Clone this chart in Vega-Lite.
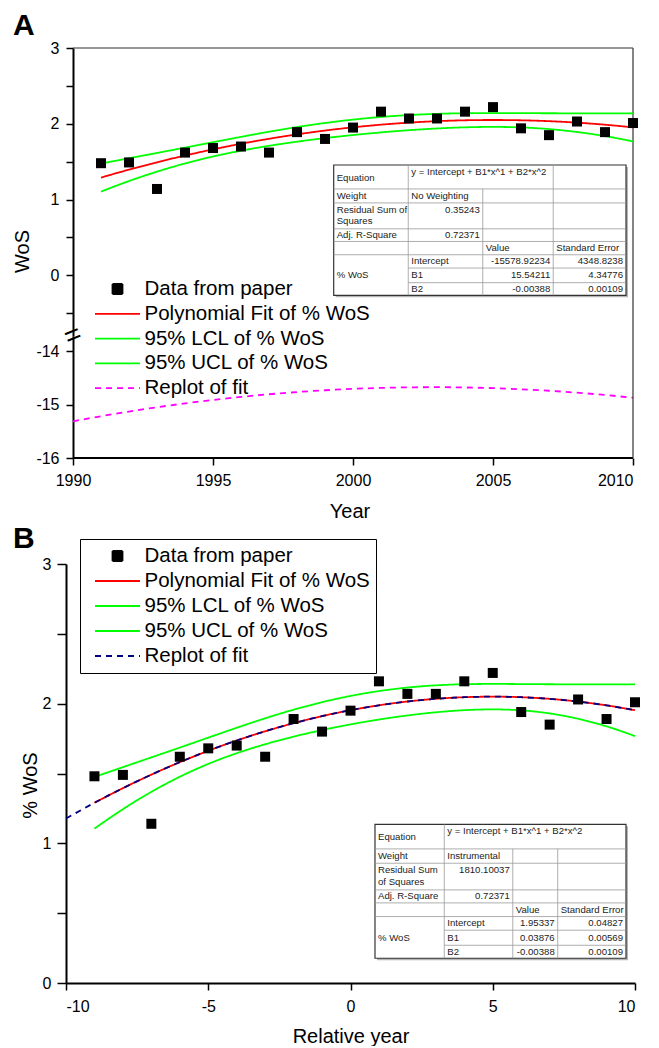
{
 "$schema": "https://vega.github.io/schema/vega-lite/v6.json",
 "background": "white",
 "padding": {"left": 12, "top": 11, "right": 0, "bottom": 0},
 "config": {
  "view": {"stroke": null},
  "font": "Liberation Sans",
  "axis": {"domainColor": "#000", "domainWidth": 2, "tickColor": "#000", "tickWidth": 1.5, "tickSize": 7, "labelFont": "Liberation Sans", "labelFontSize": 16, "labelColor": "#000", "titleFont": "Liberation Sans", "titleFontSize": 20, "titleFontWeight": "normal", "titleColor": "#000", "grid": false},
  "legend": {"labelFont": "Liberation Sans", "labelFontSize": 20.5, "labelColor": "#000", "symbolSize": 400, "symbolStrokeWidth": 2, "symbolOffset": 20.5, "labelOffset": 16, "padding": 6, "labelLimit": 400},
  "title": {"font": "Liberation Sans", "fontSize": 30, "fontWeight": "bold", "color": "#000", "anchor": "start", "frame": "group"},
  "line": {"strokeWidth": 1.8, "interpolate": "monotone"}
 },
 "datasets": {
  "obs": [
   {"year": 1991, "rel": -9, "wos": 1.48}, {"year": 1992, "rel": -8, "wos": 1.49}, {"year": 1993, "rel": -7, "wos": 1.14},
   {"year": 1994, "rel": -6, "wos": 1.62}, {"year": 1995, "rel": -5, "wos": 1.68}, {"year": 1996, "rel": -4, "wos": 1.70},
   {"year": 1997, "rel": -3, "wos": 1.62}, {"year": 1998, "rel": -2, "wos": 1.89}, {"year": 1999, "rel": -1, "wos": 1.80},
   {"year": 2000, "rel": 0, "wos": 1.95}, {"year": 2001, "rel": 1, "wos": 2.16}, {"year": 2002, "rel": 2, "wos": 2.07},
   {"year": 2003, "rel": 3, "wos": 2.07}, {"year": 2004, "rel": 4, "wos": 2.16}, {"year": 2005, "rel": 5, "wos": 2.22},
   {"year": 2006, "rel": 6, "wos": 1.94}, {"year": 2007, "rel": 7, "wos": 1.85}, {"year": 2008, "rel": 8, "wos": 2.03},
   {"year": 2009, "rel": 9, "wos": 1.89}, {"year": 2010, "rel": 10, "wos": 2.01}
  ],
  "fit": [
   {"year": 1991, "rel": -9, "fit": 1.2903, "lcl": 1.1053, "ucl": 1.4752},
   {"year": 1992, "rel": -8, "fit": 1.3950, "lcl": 1.2445, "ucl": 1.5454},
   {"year": 1993, "rel": -7, "fit": 1.4919, "lcl": 1.3686, "ucl": 1.6152},
   {"year": 1994, "rel": -6, "fit": 1.5811, "lcl": 1.4767, "ucl": 1.6856},
   {"year": 1995, "rel": -5, "fit": 1.6626, "lcl": 1.5685, "ucl": 1.7567},
   {"year": 1996, "rel": -4, "fit": 1.7363, "lcl": 1.6451, "ucl": 1.8274},
   {"year": 1997, "rel": -3, "fit": 1.8022, "lcl": 1.7093, "ucl": 1.8951},
   {"year": 1998, "rel": -2, "fit": 1.8603, "lcl": 1.7638, "ucl": 1.9568},
   {"year": 1999, "rel": -1, "fit": 1.9107, "lcl": 1.8108, "ucl": 2.0106},
   {"year": 2000, "rel": 0, "fit": 1.9534, "lcl": 1.8515, "ucl": 2.0552},
   {"year": 2001, "rel": 1, "fit": 1.9883, "lcl": 1.8864, "ucl": 2.0901},
   {"year": 2002, "rel": 2, "fit": 2.0154, "lcl": 1.9155, "ucl": 2.1153},
   {"year": 2003, "rel": 3, "fit": 2.0347, "lcl": 1.9382, "ucl": 2.1312},
   {"year": 2004, "rel": 4, "fit": 2.0463, "lcl": 1.9534, "ucl": 2.1392},
   {"year": 2005, "rel": 5, "fit": 2.0502, "lcl": 1.9590, "ucl": 2.1413},
   {"year": 2006, "rel": 6, "fit": 2.0463, "lcl": 1.9521, "ucl": 2.1404},
   {"year": 2007, "rel": 7, "fit": 2.0346, "lcl": 1.9302, "ucl": 2.1390},
   {"year": 2008, "rel": 8, "fit": 2.0151, "lcl": 1.8918, "ucl": 2.1384},
   {"year": 2009, "rel": 9, "fit": 1.9879, "lcl": 1.8375, "ucl": 2.1384},
   {"year": 2010, "rel": 10, "fit": 1.9530, "lcl": 1.7680, "ucl": 2.1379}
  ],
  "replotA": [
   {"year": 1990, "val": -15.3114}, {"year": 1991, "val": -15.2156}, {"year": 1992, "val": -15.1275}, {"year": 1993, "val": -15.0472},
   {"year": 1994, "val": -14.9747}, {"year": 1995, "val": -14.9099}, {"year": 1996, "val": -14.8529}, {"year": 1997, "val": -14.8036},
   {"year": 1998, "val": -14.7621}, {"year": 1999, "val": -14.7283}, {"year": 2000, "val": -14.7023}, {"year": 2001, "val": -14.6841},
   {"year": 2002, "val": -14.6736}, {"year": 2003, "val": -14.6709}, {"year": 2004, "val": -14.6760}, {"year": 2005, "val": -14.6888},
   {"year": 2006, "val": -14.7094}, {"year": 2007, "val": -14.7377}, {"year": 2008, "val": -14.7738}, {"year": 2009, "val": -14.8176},
   {"year": 2010, "val": -14.8692}
  ],
  "replotB": [
   {"rel": -10, "val": 1.1778}, {"rel": -9, "val": 1.2903}, {"rel": -8, "val": 1.3950}, {"rel": -7, "val": 1.4919},
   {"rel": -6, "val": 1.5811}, {"rel": -5, "val": 1.6626}, {"rel": -4, "val": 1.7363}, {"rel": -3, "val": 1.8022},
   {"rel": -2, "val": 1.8603}, {"rel": -1, "val": 1.9107}, {"rel": 0, "val": 1.9534}, {"rel": 1, "val": 1.9883},
   {"rel": 2, "val": 2.0154}, {"rel": 3, "val": 2.0347}, {"rel": 4, "val": 2.0463}, {"rel": 5, "val": 2.0502},
   {"rel": 6, "val": 2.0463}, {"rel": 7, "val": 2.0346}, {"rel": 8, "val": 2.0151}, {"rel": 9, "val": 1.9879},
   {"rel": 10, "val": 1.9530}
  ],
  "tabA_lines": [
   {"x1": 0, "x2": 100, "y1": 1.8, "y2": 1.8}, {"x1": 0, "x2": 100, "y1": 2.85, "y2": 2.85},
   {"x1": 0, "x2": 100, "y1": 4.8, "y2": 4.8}, {"x1": 0, "x2": 100, "y1": 5.75, "y2": 5.75},
   {"x1": 0, "x2": 100, "y1": 6.75, "y2": 6.75}, {"x1": 25.5, "x2": 100, "y1": 7.75, "y2": 7.75},
   {"x1": 25.5, "x2": 100, "y1": 8.85, "y2": 8.85}, {"x1": 25.5, "x2": 25.5, "y1": 0, "y2": 9.8},
   {"x1": 51, "x2": 51, "y1": 1.8, "y2": 9.8}, {"x1": 75.1, "x2": 75.1, "y1": 0, "y2": 9.8}
  ],
  "tabA_text": [
   {"t": "Equation", "x": 0, "y": 0.95, "a": "l"},
   {"t": "y = Intercept + B1*x^1 + B2*x^2", "x": 25.5, "y": 0.5, "a": "l"},
   {"t": "Weight", "x": 0, "y": 2.33, "a": "l"},
   {"t": "No Weighting", "x": 25.5, "y": 2.33, "a": "l"},
   {"t": "Residual Sum of", "x": 0, "y": 3.35, "a": "l"},
   {"t": "Squares", "x": 0, "y": 4.2, "a": "l"},
   {"t": "0.35243", "x": 51, "y": 3.35, "a": "r"},
   {"t": "Adj. R-Square", "x": 0, "y": 5.28, "a": "l"},
   {"t": "0.72371", "x": 51, "y": 5.28, "a": "r"},
   {"t": "Value", "x": 51, "y": 6.25, "a": "l"},
   {"t": "Standard Error", "x": 75.1, "y": 6.25, "a": "l"},
   {"t": "% WoS", "x": 0, "y": 8.3, "a": "l"},
   {"t": "Intercept", "x": 25.5, "y": 7.25, "a": "l"},
   {"t": "-15578.92234", "x": 75.1, "y": 7.25, "a": "r"},
   {"t": "4348.8238", "x": 100, "y": 7.25, "a": "r"},
   {"t": "B1", "x": 25.5, "y": 8.3, "a": "l"},
   {"t": "15.54211", "x": 75.1, "y": 8.3, "a": "r"},
   {"t": "4.34776", "x": 100, "y": 8.3, "a": "r"},
   {"t": "B2", "x": 25.5, "y": 9.33, "a": "l"},
   {"t": "-0.00388", "x": 75.1, "y": 9.33, "a": "r"},
   {"t": "0.00109", "x": 100, "y": 9.33, "a": "r"}
  ],
  "tabB_lines": [
   {"x1": 0, "x2": 100, "y1": 1.8, "y2": 1.8}, {"x1": 0, "x2": 100, "y1": 2.85, "y2": 2.85},
   {"x1": 0, "x2": 100, "y1": 4.8, "y2": 4.8}, {"x1": 0, "x2": 100, "y1": 5.75, "y2": 5.75},
   {"x1": 0, "x2": 100, "y1": 6.75, "y2": 6.75}, {"x1": 27.6, "x2": 100, "y1": 7.75, "y2": 7.75},
   {"x1": 27.6, "x2": 100, "y1": 8.85, "y2": 8.85}, {"x1": 27.6, "x2": 27.6, "y1": 0, "y2": 9.8},
   {"x1": 54.9, "x2": 54.9, "y1": 1.8, "y2": 9.8}, {"x1": 72.8, "x2": 72.8, "y1": 1.8, "y2": 9.8}
  ],
  "tabB_text": [
   {"t": "Equation", "x": 0, "y": 0.95, "a": "l"},
   {"t": "y = Intercept + B1*x^1 + B2*x^2", "x": 27.6, "y": 0.5, "a": "l"},
   {"t": "Weight", "x": 0, "y": 2.33, "a": "l"},
   {"t": "Instrumental", "x": 27.6, "y": 2.33, "a": "l"},
   {"t": "Residual Sum", "x": 0, "y": 3.35, "a": "l"},
   {"t": "of Squares", "x": 0, "y": 4.2, "a": "l"},
   {"t": "1810.10037", "x": 54.9, "y": 3.35, "a": "r"},
   {"t": "Adj. R-Square", "x": 0, "y": 5.28, "a": "l"},
   {"t": "0.72371", "x": 54.9, "y": 5.28, "a": "r"},
   {"t": "Value", "x": 54.9, "y": 6.25, "a": "l"},
   {"t": "Standard Error", "x": 72.8, "y": 6.25, "a": "l"},
   {"t": "% WoS", "x": 0, "y": 8.3, "a": "l"},
   {"t": "Intercept", "x": 27.6, "y": 7.25, "a": "l"},
   {"t": "1.95337", "x": 72.8, "y": 7.25, "a": "r"},
   {"t": "0.04827", "x": 100, "y": 7.25, "a": "r"},
   {"t": "B1", "x": 27.6, "y": 8.3, "a": "l"},
   {"t": "0.03876", "x": 72.8, "y": 8.3, "a": "r"},
   {"t": "0.00569", "x": 100, "y": 8.3, "a": "r"},
   {"t": "B2", "x": 27.6, "y": 9.33, "a": "l"},
   {"t": "-0.00388", "x": 72.8, "y": 9.33, "a": "r"},
   {"t": "0.00109", "x": 100, "y": 9.33, "a": "r"}
  ]
 },
 "spacing": 2,
 "resolve": {"scale": {"color": "independent", "shape": "independent", "strokeDash": "independent"}, "legend": {"color": "independent", "shape": "independent", "strokeDash": "independent"}},
 "vconcat": [
  {
   "spacing": 0,
   "bounds": "flush",
   "vconcat": [
    {
     "width": 567, "height": 288,
     "title": {"text": "A", "dx": -53, "offset": -1},
     "resolve": {"scale": {"x": "independent", "y": "independent"}},
     "layer": [
      {"layer": [
       {"data": {"values": [{}]}, "mark": {"type": "rule", "color": "#333", "strokeWidth": 1.2},
        "encoding": {"x": {"datum": 1990, "type": "quantitative", "scale": {"domain": [1989.75, 2010], "nice": false, "zero": false}, "axis": null},
                     "x2": {"datum": 2010},
                     "y": {"datum": 3, "type": "quantitative", "scale": {"domain": [-0.8, 3], "nice": false, "zero": false}}}},
       {"data": {"values": [{}]}, "mark": {"type": "rule", "color": "#333", "strokeWidth": 1.2},
        "encoding": {"x": {"datum": 2010, "type": "quantitative", "scale": {"domain": [1989.75, 2010], "nice": false, "zero": false}, "axis": null}}},
       {"data": {"name": "fit"}, "mark": {"type": "line"},
        "encoding": {"x": {"field": "year", "type": "quantitative", "scale": {"domain": [1989.75, 2010], "nice": false, "zero": false}, "axis": null},
                     "y": {"field": "lcl", "type": "quantitative", "scale": {"domain": [-0.8, 3], "nice": false, "zero": false}},
                     "color": {"datum": "95% LCL of % WoS", "scale": {"domain": ["Data from paper", "Polynomial Fit of % WoS", "95% LCL of % WoS", "95% UCL of % WoS", "Replot of fit"], "range": ["#000000", "#ff0000", "#00ff00", "#00ff00", "#ff00ff"]}},
                     "strokeDash": {"datum": "95% LCL of % WoS", "scale": {"domain": ["Data from paper", "Polynomial Fit of % WoS", "95% LCL of % WoS", "95% UCL of % WoS", "Replot of fit"], "range": [[1, 0], [1, 0], [1, 0], [1, 0], [6, 5]]}}}},
       {"data": {"name": "fit"}, "mark": {"type": "line"},
        "encoding": {"x": {"field": "year", "type": "quantitative", "scale": {"domain": [1989.75, 2010], "nice": false, "zero": false}, "axis": null},
                     "y": {"field": "ucl", "type": "quantitative", "scale": {"domain": [-0.8, 3], "nice": false, "zero": false}},
                     "color": {"datum": "95% UCL of % WoS", "scale": {"domain": ["Data from paper", "Polynomial Fit of % WoS", "95% LCL of % WoS", "95% UCL of % WoS", "Replot of fit"], "range": ["#000000", "#ff0000", "#00ff00", "#00ff00", "#ff00ff"]}},
                     "strokeDash": {"datum": "95% UCL of % WoS", "scale": {"domain": ["Data from paper", "Polynomial Fit of % WoS", "95% LCL of % WoS", "95% UCL of % WoS", "Replot of fit"], "range": [[1, 0], [1, 0], [1, 0], [1, 0], [6, 5]]}}}},
       {"data": {"name": "fit"}, "mark": {"type": "line"},
        "encoding": {"x": {"field": "year", "type": "quantitative", "scale": {"domain": [1989.75, 2010], "nice": false, "zero": false}, "axis": null},
                     "y": {"field": "fit", "type": "quantitative", "scale": {"domain": [-0.8, 3], "nice": false, "zero": false}},
                     "color": {"datum": "Polynomial Fit of % WoS", "scale": {"domain": ["Data from paper", "Polynomial Fit of % WoS", "95% LCL of % WoS", "95% UCL of % WoS", "Replot of fit"], "range": ["#000000", "#ff0000", "#00ff00", "#00ff00", "#ff00ff"]}},
                     "strokeDash": {"datum": "Polynomial Fit of % WoS", "scale": {"domain": ["Data from paper", "Polynomial Fit of % WoS", "95% LCL of % WoS", "95% UCL of % WoS", "Replot of fit"], "range": [[1, 0], [1, 0], [1, 0], [1, 0], [6, 5]]}}}},
       {"data": {"name": "obs"}, "mark": {"type": "point", "filled": true, "size": 400, "opacity": 1},
        "encoding": {"x": {"field": "year", "type": "quantitative", "scale": {"domain": [1989.75, 2010], "nice": false, "zero": false}, "axis": null},
                     "y": {"field": "wos", "type": "quantitative", "scale": {"domain": [-0.8, 3], "nice": false, "zero": false},
                           "axis": {"values": [-0.5, 0, 0.5, 1, 1.5, 2, 2.5, 3], "labelExpr": "datum.value % 1 == 0 ? '' + datum.value : ''", "title": "WoS", "offset": -7, "labelPadding": 7, "titleX": -44.5, "titleY": 203, "titleBaseline": "alphabetic"}},
                     "color": {"datum": "Data from paper", "scale": {"domain": ["Data from paper", "Polynomial Fit of % WoS", "95% LCL of % WoS", "95% UCL of % WoS", "Replot of fit"], "range": ["#000000", "#ff0000", "#00ff00", "#00ff00", "#ff00ff"]},
                               "legend": {"orient": "none", "legendX": 14, "legendY": 224, "title": null, "rowPadding": 2.8}},
                     "shape": {"datum": "Data from paper", "scale": {"domain": ["Data from paper", "Polynomial Fit of % WoS", "95% LCL of % WoS", "95% UCL of % WoS", "Replot of fit"], "range": ["M-0.5,-0.5H0.5V0.5H-0.5Z", "M-2.25,0H2.25", "M-2.25,0H2.25", "M-2.25,0H2.25", "M-2.25,0H2.25"]},
                               "legend": {"orient": "none", "legendX": 14, "legendY": 224, "title": null, "rowPadding": 2.8}},
                     "strokeDash": {"datum": "Data from paper", "scale": {"domain": ["Data from paper", "Polynomial Fit of % WoS", "95% LCL of % WoS", "95% UCL of % WoS", "Replot of fit"], "range": [[1, 0], [1, 0], [1, 0], [1, 0], [6, 5]]},
                               "legend": {"orient": "none", "legendX": 14, "legendY": 224, "title": null, "rowPadding": 2.8}}}},
       {"data": {"values": [{}]}, "mark": {"type": "text", "text": "=", "fontSize": 28, "angle": -22, "font": "Liberation Sans", "color": "#000"},
        "encoding": {"x": {"datum": 1990, "type": "quantitative", "scale": {"domain": [1989.75, 2010], "nice": false, "zero": false}, "axis": null},
                     "y": {"datum": -0.8, "type": "quantitative", "scale": {"domain": [-0.8, 3], "nice": false, "zero": false}}}}
      ]},
      {"layer": [
       {"data": {"values": [{}]}, "mark": {"type": "rect", "fill": "#b5b5b5", "xOffset": 2, "x2Offset": 2, "yOffset": 2, "y2Offset": 2},
        "encoding": {"x": {"datum": 0, "type": "quantitative", "scale": {"domain": [-91.58, 102.39], "nice": false, "zero": false}, "axis": null}, "x2": {"datum": 100},
                     "y": {"datum": 0, "type": "quantitative", "scale": {"domain": [-8.80, 12.86], "nice": false, "zero": false, "reverse": true}, "axis": null}, "y2": {"datum": 9.8}}},
       {"data": {"values": [{}]}, "mark": {"type": "rect", "fill": "#fff", "stroke": "#333", "strokeWidth": 1.2},
        "encoding": {"x": {"datum": 0, "type": "quantitative", "scale": {"domain": [-91.58, 102.39], "nice": false, "zero": false}, "axis": null}, "x2": {"datum": 100},
                     "y": {"datum": 0, "type": "quantitative", "scale": {"domain": [-8.80, 12.86], "nice": false, "zero": false, "reverse": true}, "axis": null}, "y2": {"datum": 9.8}}},
       {"data": {"name": "tabA_lines"}, "mark": {"type": "rule", "color": "#999", "strokeWidth": 0.8},
        "encoding": {"x": {"field": "x1", "type": "quantitative", "scale": {"domain": [-91.58, 102.39], "nice": false, "zero": false}, "axis": null}, "x2": {"field": "x2"},
                     "y": {"field": "y1", "type": "quantitative", "scale": {"domain": [-8.80, 12.86], "nice": false, "zero": false, "reverse": true}, "axis": null}, "y2": {"field": "y2"}}},
       {"data": {"name": "tabA_text"}, "transform": [{"filter": "datum.a == 'l'"}], "mark": {"type": "text", "align": "left", "dx": 3, "fontSize": 9.6, "font": "Liberation Sans", "color": "#222"},
        "encoding": {"x": {"field": "x", "type": "quantitative", "scale": {"domain": [-91.58, 102.39], "nice": false, "zero": false}, "axis": null},
                     "y": {"field": "y", "type": "quantitative", "scale": {"domain": [-8.80, 12.86], "nice": false, "zero": false, "reverse": true}, "axis": null}, "text": {"field": "t"}}},
       {"data": {"name": "tabA_text"}, "transform": [{"filter": "datum.a == 'r'"}], "mark": {"type": "text", "align": "right", "dx": -3, "fontSize": 9.6, "font": "Liberation Sans", "color": "#222"},
        "encoding": {"x": {"field": "x", "type": "quantitative", "scale": {"domain": [-91.58, 102.39], "nice": false, "zero": false}, "axis": null},
                     "y": {"field": "y", "type": "quantitative", "scale": {"domain": [-8.80, 12.86], "nice": false, "zero": false, "reverse": true}, "axis": null}, "text": {"field": "t"}}}
      ]}
     ]
    },
    {
     "width": 567, "height": 122,
     "layer": [
      {"data": {"name": "replotA"}, "mark": {"type": "line", "color": "#ff00ff", "strokeDash": [6, 5]},
       "encoding": {"x": {"field": "year", "type": "quantitative", "scale": {"domain": [1989.75, 2010], "nice": false, "zero": false},
                          "axis": {"values": [1990, 1995, 2000, 2005, 2010], "format": "d", "title": "Year", "domain": false, "labelPadding": 7, "titleY": 59, "titleBaseline": "alphabetic"}},
                    "y": {"field": "val", "type": "quantitative", "scale": {"domain": [-16, -13.71], "nice": false, "zero": false},
                          "axis": {"values": [-16, -15.5, -15, -14.5, -14], "labelExpr": "datum.value % 1 == 0 ? '' + datum.value : ''", "title": null, "offset": -7, "labelPadding": 7}}}},
      {"data": {"values": [{}]}, "mark": {"type": "rule", "color": "#000", "strokeWidth": 2},
       "encoding": {"x": {"datum": 1990, "type": "quantitative", "scale": {"domain": [1989.75, 2010], "nice": false, "zero": false}}, "x2": {"datum": 2010},
                    "y": {"datum": -16, "type": "quantitative", "scale": {"domain": [-16, -13.71], "nice": false, "zero": false}}}},
      {"data": {"values": [{}]}, "mark": {"type": "rule", "color": "#333", "strokeWidth": 1.2},
       "encoding": {"x": {"datum": 2010, "type": "quantitative", "scale": {"domain": [1989.75, 2010], "nice": false, "zero": false}}}}
     ]
    }
   ]
  },
  {
   "width": 569, "height": 419,
   "title": {"text": "B", "dx": -53, "offset": -15},
   "resolve": {"scale": {"x": "independent", "y": "independent"}},
   "layer": [
    {"layer": [
     {"data": {"name": "fit"}, "mark": {"type": "line"},
      "encoding": {"x": {"field": "rel", "type": "quantitative", "scale": {"domain": [-10, 10], "nice": false, "zero": false}},
                   "y": {"field": "lcl", "type": "quantitative", "scale": {"domain": [0, 3], "nice": false, "zero": false}},
                   "color": {"datum": "95% LCL of % WoS", "scale": {"domain": ["Data from paper", "Polynomial Fit of % WoS", "95% LCL of % WoS", "95% UCL of % WoS", "Replot of fit"], "range": ["#000000", "#ff0000", "#00ff00", "#00ff00", "#000080"]}},
                   "strokeDash": {"datum": "95% LCL of % WoS", "scale": {"domain": ["Data from paper", "Polynomial Fit of % WoS", "95% LCL of % WoS", "95% UCL of % WoS", "Replot of fit"], "range": [[1, 0], [1, 0], [1, 0], [1, 0], [6, 5]]}}}},
     {"data": {"name": "fit"}, "mark": {"type": "line"},
      "encoding": {"x": {"field": "rel", "type": "quantitative", "scale": {"domain": [-10, 10], "nice": false, "zero": false}},
                   "y": {"field": "ucl", "type": "quantitative", "scale": {"domain": [0, 3], "nice": false, "zero": false}},
                   "color": {"datum": "95% UCL of % WoS", "scale": {"domain": ["Data from paper", "Polynomial Fit of % WoS", "95% LCL of % WoS", "95% UCL of % WoS", "Replot of fit"], "range": ["#000000", "#ff0000", "#00ff00", "#00ff00", "#000080"]}},
                   "strokeDash": {"datum": "95% UCL of % WoS", "scale": {"domain": ["Data from paper", "Polynomial Fit of % WoS", "95% LCL of % WoS", "95% UCL of % WoS", "Replot of fit"], "range": [[1, 0], [1, 0], [1, 0], [1, 0], [6, 5]]}}}},
     {"data": {"name": "fit"}, "mark": {"type": "line"},
      "encoding": {"x": {"field": "rel", "type": "quantitative", "scale": {"domain": [-10, 10], "nice": false, "zero": false}},
                   "y": {"field": "fit", "type": "quantitative", "scale": {"domain": [0, 3], "nice": false, "zero": false}},
                   "color": {"datum": "Polynomial Fit of % WoS", "scale": {"domain": ["Data from paper", "Polynomial Fit of % WoS", "95% LCL of % WoS", "95% UCL of % WoS", "Replot of fit"], "range": ["#000000", "#ff0000", "#00ff00", "#00ff00", "#000080"]}},
                   "strokeDash": {"datum": "Polynomial Fit of % WoS", "scale": {"domain": ["Data from paper", "Polynomial Fit of % WoS", "95% LCL of % WoS", "95% UCL of % WoS", "Replot of fit"], "range": [[1, 0], [1, 0], [1, 0], [1, 0], [6, 5]]}}}},
     {"data": {"name": "replotB"}, "mark": {"type": "line"},
      "encoding": {"x": {"field": "rel", "type": "quantitative", "scale": {"domain": [-10, 10], "nice": false, "zero": false}},
                   "y": {"field": "val", "type": "quantitative", "scale": {"domain": [0, 3], "nice": false, "zero": false}},
                   "color": {"datum": "Replot of fit", "scale": {"domain": ["Data from paper", "Polynomial Fit of % WoS", "95% LCL of % WoS", "95% UCL of % WoS", "Replot of fit"], "range": ["#000000", "#ff0000", "#00ff00", "#00ff00", "#000080"]}},
                   "strokeDash": {"datum": "Replot of fit", "scale": {"domain": ["Data from paper", "Polynomial Fit of % WoS", "95% LCL of % WoS", "95% UCL of % WoS", "Replot of fit"], "range": [[1, 0], [1, 0], [1, 0], [1, 0], [6, 5]]}}}},
     {"data": {"name": "obs"}, "mark": {"type": "point", "filled": true, "size": 400, "opacity": 1},
      "encoding": {"x": {"field": "rel", "type": "quantitative", "scale": {"domain": [-10, 10], "nice": false, "zero": false},
                         "axis": {"values": [-10, -5, 0, 5, 10], "labelExpr": "'' + datum.value", "title": "Relative year", "labelPadding": 8, "titleY": 59, "titleBaseline": "alphabetic"}},
                   "y": {"field": "wos", "type": "quantitative", "scale": {"domain": [0, 3], "nice": false, "zero": false},
                         "axis": {"values": [0, 0.5, 1, 1.5, 2, 2.5, 3], "labelExpr": "datum.value % 1 == 0 ? '' + datum.value : ''", "title": "% WoS", "tickSize": 9, "labelPadding": 6, "titleX": -30, "titleY": 221, "titleBaseline": "alphabetic"}},
                   "color": {"datum": "Data from paper", "scale": {"domain": ["Data from paper", "Polynomial Fit of % WoS", "95% LCL of % WoS", "95% UCL of % WoS", "Replot of fit"], "range": ["#000000", "#ff0000", "#00ff00", "#00ff00", "#000080"]},
                             "legend": {"orient": "none", "legendX": 14, "legendY": -25, "title": null, "rowPadding": 3, "strokeColor": "#000", "fillColor": "#fff"}},
                   "shape": {"datum": "Data from paper", "scale": {"domain": ["Data from paper", "Polynomial Fit of % WoS", "95% LCL of % WoS", "95% UCL of % WoS", "Replot of fit"], "range": ["M-0.5,-0.5H0.5V0.5H-0.5Z", "M-2.25,0H2.25", "M-2.25,0H2.25", "M-2.25,0H2.25", "M-2.25,0H2.25"]},
                             "legend": {"orient": "none", "legendX": 14, "legendY": -25, "title": null, "rowPadding": 3, "strokeColor": "#000", "fillColor": "#fff"}},
                   "strokeDash": {"datum": "Data from paper", "scale": {"domain": ["Data from paper", "Polynomial Fit of % WoS", "95% LCL of % WoS", "95% UCL of % WoS", "Replot of fit"], "range": [[1, 0], [1, 0], [1, 0], [1, 0], [6, 5]]},
                             "legend": {"orient": "none", "legendX": 14, "legendY": -25, "title": null, "rowPadding": 3, "strokeColor": "#000", "fillColor": "#fff"}}}}
    ]},
    {"layer": [
     {"data": {"values": [{}]}, "mark": {"type": "rect", "fill": "#b5b5b5", "xOffset": 2, "x2Offset": 2, "yOffset": 2, "y2Offset": 2},
      "encoding": {"x": {"datum": 0, "type": "quantitative", "scale": {"domain": [-123.1, 103.59], "nice": false, "zero": false}, "axis": null}, "x2": {"datum": 100},
                   "y": {"datum": 0, "type": "quantitative", "scale": {"domain": [-19.04, 11.61], "nice": false, "zero": false, "reverse": true}, "axis": null}, "y2": {"datum": 9.8}}},
     {"data": {"values": [{}]}, "mark": {"type": "rect", "fill": "#fff", "stroke": "#333", "strokeWidth": 1.2},
      "encoding": {"x": {"datum": 0, "type": "quantitative", "scale": {"domain": [-123.1, 103.59], "nice": false, "zero": false}, "axis": null}, "x2": {"datum": 100},
                   "y": {"datum": 0, "type": "quantitative", "scale": {"domain": [-19.04, 11.61], "nice": false, "zero": false, "reverse": true}, "axis": null}, "y2": {"datum": 9.8}}},
     {"data": {"name": "tabB_lines"}, "mark": {"type": "rule", "color": "#999", "strokeWidth": 0.8},
      "encoding": {"x": {"field": "x1", "type": "quantitative", "scale": {"domain": [-123.1, 103.59], "nice": false, "zero": false}, "axis": null}, "x2": {"field": "x2"},
                   "y": {"field": "y1", "type": "quantitative", "scale": {"domain": [-19.04, 11.61], "nice": false, "zero": false, "reverse": true}, "axis": null}, "y2": {"field": "y2"}}},
     {"data": {"name": "tabB_text"}, "transform": [{"filter": "datum.a == 'l'"}], "mark": {"type": "text", "align": "left", "dx": 3, "fontSize": 9.6, "font": "Liberation Sans", "color": "#222"},
      "encoding": {"x": {"field": "x", "type": "quantitative", "scale": {"domain": [-123.1, 103.59], "nice": false, "zero": false}, "axis": null},
                   "y": {"field": "y", "type": "quantitative", "scale": {"domain": [-19.04, 11.61], "nice": false, "zero": false, "reverse": true}, "axis": null}, "text": {"field": "t"}}},
     {"data": {"name": "tabB_text"}, "transform": [{"filter": "datum.a == 'r'"}], "mark": {"type": "text", "align": "right", "dx": -3, "fontSize": 9.6, "font": "Liberation Sans", "color": "#222"},
      "encoding": {"x": {"field": "x", "type": "quantitative", "scale": {"domain": [-123.1, 103.59], "nice": false, "zero": false}, "axis": null},
                   "y": {"field": "y", "type": "quantitative", "scale": {"domain": [-19.04, 11.61], "nice": false, "zero": false, "reverse": true}, "axis": null}, "text": {"field": "t"}}}
    ]}
   ]
  }
 ]
}
